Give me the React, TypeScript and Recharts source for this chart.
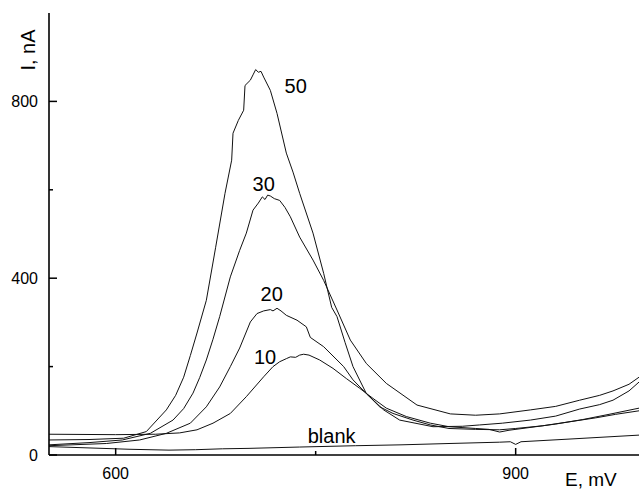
import React from "react";
import { LineChart, Line, XAxis, YAxis, ReferenceDot } from "recharts";

// E (mV), I (nA)
const curve50 = [
  [550, 34], [580, 35], [606, 38], [623, 53], [638, 102], [645, 135], [651, 176], [656, 225],
  [661, 276], [668, 350], [675, 470], [682, 592], [687, 667], [688, 728], [692, 757], [696, 780],
  [697, 836], [701, 848], [703, 860], [705, 872], [707, 866], [709, 868], [711, 855], [716, 825],
  [721, 773], [728, 683], [733, 640], [738, 592], [748, 502], [756, 411], [762, 334], [766, 313],
  [772, 255], [778, 200], [788, 139], [801, 102], [813, 79], [838, 64], [860, 65], [873, 68],
  [890, 72], [911, 79], [930, 88], [948, 104], [963, 114], [973, 124], [985, 145], [992.5, 165],
];

const curve30 = [
  [550, 23], [580, 28], [605, 34], [626, 49], [643, 79], [651, 105], [658, 140], [663, 175],
  [668, 215], [673, 262], [678, 313], [686, 403], [693, 463], [698, 502], [703, 554], [707, 570],
  [710, 584], [712, 578], [714, 588], [716, 586], [719, 580], [723, 576], [727, 560], [731, 539],
  [738, 493], [748, 441], [756, 395], [766, 328], [776, 260], [788, 207], [803, 162], [826, 113],
  [851, 93], [870, 90], [888, 93], [911, 102], [930, 110], [948, 124], [963, 135], [973, 145],
  [985, 160], [992.5, 176],
];

const curve20 = [
  [550, 21], [593, 26], [618, 34], [638, 49], [656, 72], [668, 109], [678, 154], [686, 200],
  [693, 242], [701, 301], [706, 320], [711, 326], [716, 329], [718, 326], [721, 332], [724, 326],
  [728, 316], [736, 305], [743, 290], [746, 266], [756, 245], [766, 215], [771, 200], [778, 170],
  [788, 139], [798, 109], [808, 94], [823, 79], [836, 68], [850, 60], [870, 58], [888, 57],
  [900, 60], [920, 66], [940, 75], [960, 84], [975, 92], [992.5, 100],
];

const curve10 = [
  [550, 47], [600, 46], [630, 47], [648, 50], [661, 57], [673, 72], [686, 94], [698, 132],
  [711, 177], [718, 200], [723, 211], [728, 218], [731, 222], [735, 221], [738, 226], [741, 228],
  [745, 226], [753, 215], [763, 196], [773, 173], [783, 151], [793, 128], [803, 106], [818, 87],
  [836, 72], [850, 64], [870, 60], [880, 58], [888, 52], [895, 56], [910, 62], [930, 70],
  [950, 80], [970, 92], [992.5, 106],
];

const blank = [
  [550, 19], [580, 16], [610, 13], [640, 11], [660, 12], [680, 14], [700, 15], [738, 18],
  [780, 21], [814, 23], [850, 26], [888, 29], [896, 30], [900, 24], [904, 30], [940, 36],
  [992.5, 45],
];

const xTicks = [600, 750, 900];
const xLabelled = [600, 900];
const yTicks = [0, 200, 400, 600, 800];
const yLabelled = [0, 400, 800];

// curve labels: text, E, I
const curveLabels: [string, number, number][] = [
  ["50", 735, 835],
  ["30", 711, 614],
  ["20", 717, 364],
  ["10", 712, 222],
  ["blank", 762, 44],
];

const FONT = "'Liberation Sans', Arial, sans-serif";

const toPts = (arr: number[][]) => arr.map(([e, i]) => ({ e, i }));

// ticks point inward, only some of them carry a label
const BottomTick = (props: any) => {
  const { x, y, payload } = props;
  const major = xLabelled.includes(payload.value);
  return (
    <g>
      <line x1={x} x2={x} y1={y} y2={y - (major ? 7 : 4)} stroke="#000" strokeWidth={1.5} />
      {major && (
        <text x={x} y={y + 24} textAnchor="middle" fontSize={16} fontFamily={FONT} fill="#000">
          {payload.value}
        </text>
      )}
    </g>
  );
};

const LeftTick = (props: any) => {
  const { x, y, payload } = props;
  const major = yLabelled.includes(payload.value);
  return (
    <g>
      <line x1={x} x2={x + (major ? 8 : 4)} y1={y} y2={y} stroke="#000" strokeWidth={1.5} />
      {major && (
        <text x={x - 11} y={y + 6} textAnchor="end" fontSize={16} fontFamily={FONT} fill="#000">
          {payload.value}
        </text>
      )}
    </g>
  );
};

export default function App() {
  const series = [curve50, curve30, curve20, curve10, blank];
  return (
    <div style={{ position: "absolute", left: 0, top: 0, width: 639, height: 490, background: "#fff" }}>
      <LineChart width={639} height={490} margin={{ top: 13, right: 0, left: 0, bottom: 0 }}>
        <XAxis
          xAxisId="b"
          dataKey="e"
          type="number"
          domain={[550, 992.5]}
          ticks={xTicks}
          interval={0}
          height={35}
          tickLine={false}
          tickSize={0}
          tickMargin={0}
          tick={<BottomTick />}
          axisLine={{ stroke: "#000", strokeWidth: 1.6 }}
          allowDataOverflow
        />
        <XAxis
          xAxisId="t"
          orientation="top"
          type="number"
          domain={[550, 992.5]}
          height={0}
          tick={false}
          tickLine={false}
          axisLine={{ stroke: "#000", strokeWidth: 1.6 }}
        />
        <YAxis
          yAxisId="l"
          type="number"
          domain={[0, 1000]}
          ticks={yTicks}
          interval={0}
          width={49}
          tickLine={false}
          tickSize={0}
          tickMargin={0}
          tick={<LeftTick />}
          axisLine={{ stroke: "#000", strokeWidth: 1.6 }}
          allowDataOverflow
        />
        {series.map((s, k) => (
          <Line
            key={k}
            xAxisId="b"
            yAxisId="l"
            data={toPts(s)}
            dataKey="i"
            type="linear"
            stroke="#111"
            strokeWidth={1}
            dot={false}
            activeDot={false}
            isAnimationActive={false}
          />
        ))}
        {curveLabels.map(([t, e, i]) => (
          <ReferenceDot
            key={t}
            xAxisId="b"
            yAxisId="l"
            x={e}
            y={i}
            r={0}
            stroke="none"
            fill="none"
            label={{ value: t, position: "center", fontSize: 20, fontFamily: FONT, fill: "#000" }}
          />
        ))}
      </LineChart>
      <svg
        width={639}
        height={490}
        style={{ position: "absolute", left: 0, top: 0, pointerEvents: "none" }}
      >
        <text
          transform="translate(35,50) rotate(-90)"
          textAnchor="middle"
          fontSize={20}
          fontFamily={FONT}
          fill="#000"
        >
          I, nA
        </text>
        <text x={565} y={486} fontSize={19} fontFamily={FONT} fill="#000">
          E, mV
        </text>
      </svg>
    </div>
  );
}
